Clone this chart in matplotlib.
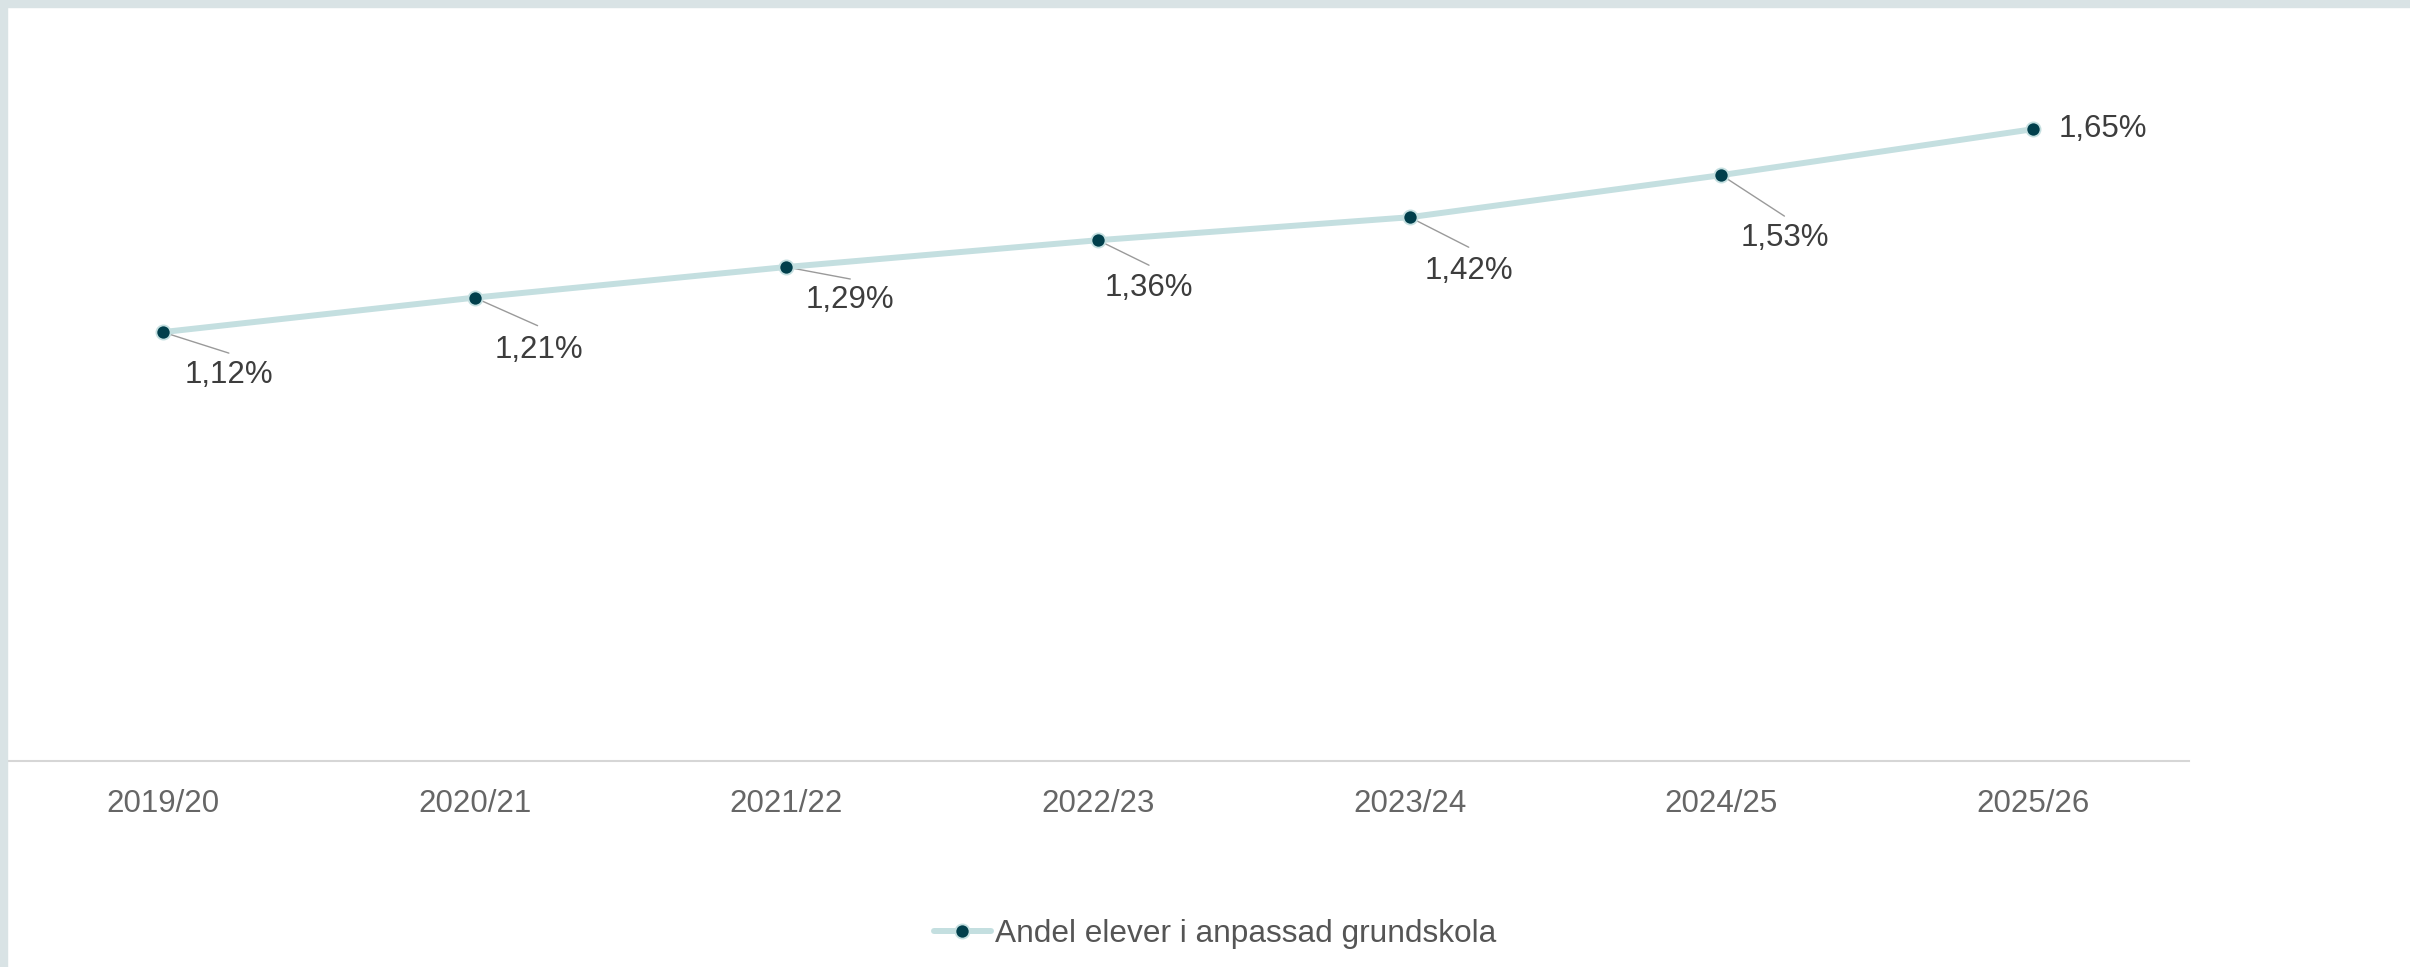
import matplotlib.pyplot as plt
from matplotlib.patches import Rectangle

plt.rcParams['font.family'] = ['Liberation Sans', 'DejaVu Sans']

# data
years = ['2019/20', '2020/21', '2021/22', '2022/23', '2023/24', '2024/25', '2025/26']
share = [1.12, 1.21, 1.29, 1.36, 1.42, 1.53, 1.65]
series_name = 'Andel elever i anpassad grundskola'

# label placement in pixels (dx right, dy down) for text centre and connector end
label_offsets = [(66, 43), (64, 52), (64, 33), (51, 48), (59, 54), (63, 63), (25, 0)]
connector_ends = [(66, 21), (63, 28), (64, 12), (51, 25), (59, 30), (63, 41), None]

line_color = '#c4dfe0'
marker_color = '#013f4c'
W, H = 2410, 967

fig = plt.figure(figsize=(W / 100, H / 100), dpi=100)
fig.patch.set_facecolor('white')

# frame bands top and left
fig.patches.append(Rectangle((0, 1 - 7 / H), 1, 7 / H, transform=fig.transFigure,
                             color='#d9e3e5', zorder=0))
fig.patches.append(Rectangle((0, 0), 7 / W, 1, transform=fig.transFigure,
                             color='#d9e3e5', zorder=0))

ax = fig.add_axes([7 / W, (H - 761) / H, 2182 / W, 754 / H])
ax.set_facecolor('none')

x = list(range(len(years)))
ax.plot(x, share, color=line_color, lw=4.3, solid_capstyle='round', zorder=2,
        marker='o', ms=10.2, mfc=marker_color, mec=line_color, mew=1.3,
        label=series_name)

for i, v in enumerate(share):
    txt = f'{v:.2f}'.replace('.', ',') + '%'
    dx, dy = label_offsets[i]
    if connector_ends[i] is None:
        ax.annotate(txt, (i, v), xytext=(dx, -dy), textcoords='offset pixels',
                    ha='left', va='center', fontsize=22.5, color='#3d3d3d')
    else:
        ax.annotate(txt, (i, v), xytext=(dx, -dy), textcoords='offset pixels',
                    ha='center', va='center', fontsize=22.5, color='#3d3d3d')
        cx, cy = connector_ends[i]
        ax.annotate('', (i, v), xytext=(cx, -cy), textcoords='offset pixels',
                    arrowprops=dict(arrowstyle='-', color='#9a9a9a', lw=1.0,
                                    shrinkA=0, shrinkB=0), zorder=1)

ax.set_xlim(-0.5, len(years) - 0.5)
ax.set_ylim(0, 1.969)
ax.set_xticks(x)
ax.set_xticklabels(years, fontsize=22.5, color='#666666')
ax.tick_params(axis='x', length=0, pad=20)
ax.set_yticks([])
for s in ['top', 'right', 'left']:
    ax.spines[s].set_visible(False)
ax.spines['bottom'].set_color('#d6d6d6')
ax.spines['bottom'].set_linewidth(1.5)

fig.legend(loc='center', bbox_to_anchor=(1215 / W, 1 - 934 / H), frameon=False,
           fontsize=22.8, labelcolor='#555555', handlelength=1.8,
           handletextpad=0.15)

fig.savefig('out.png', dpi=100)
